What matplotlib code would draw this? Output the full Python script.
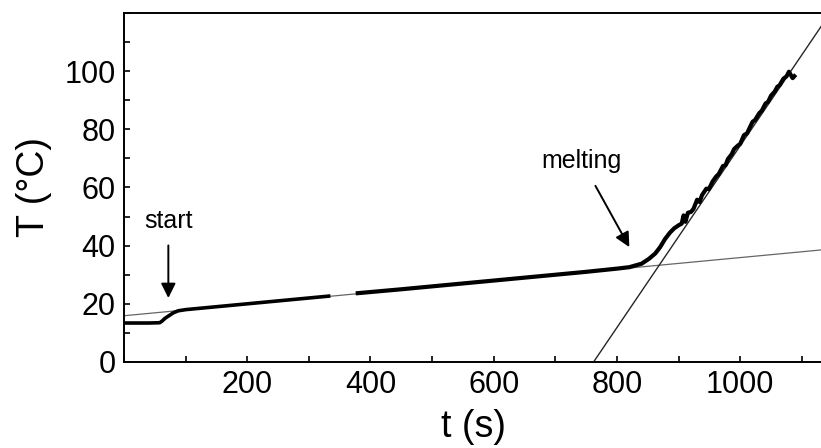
import numpy as np
import matplotlib.pyplot as plt
from matplotlib.ticker import MultipleLocator

plt.rcParams['font.family'] = ['Liberation Sans', 'DejaVu Sans']

# measured temperature, first part (before the gap in the record)
t_a = [0, 20, 40, 58, 62, 66, 70, 75, 80, 88, 100, 130, 170, 220, 270, 335]
T_a = [13.4, 13.4, 13.4, 13.5, 14.1, 14.9, 15.5, 16.2, 16.9, 17.6, 18.0, 18.6,
       19.4, 20.4, 21.4, 22.7]

# measured temperature, second part (after the gap)
t_b = [376, 450, 550, 650, 750, 800, 820, 840, 852, 862, 870, 878, 886, 893,
       900, 905, 908, 911, 915, 920, 924, 930, 934, 938, 945, 949, 955, 961,
       965, 972, 976, 980, 986, 990, 996, 1000, 1006, 1011, 1015, 1020, 1024,
       1031, 1035, 1041, 1045, 1050, 1056, 1060, 1064, 1070, 1075, 1079, 1085,
       1090]
T_b = [23.6, 25.0, 27.0, 29.0, 31.0, 32.1, 32.6, 33.8, 35.5, 37.3, 39.5, 42.3,
       44.5, 46.0, 47.0, 47.6, 50.4, 48.2, 51.3, 51.6, 52.6, 55.8, 55.0, 57.4,
       59.6, 59.4, 62.0, 63.8, 64.6, 67.4, 67.6, 69.8, 71.4, 73.2, 74.4, 75.0,
       78.0, 78.6, 80.4, 82.6, 83.2, 85.6, 86.4, 88.9, 89.4, 91.6, 93.0, 94.6,
       95.2, 97.4, 98.2, 99.8, 97.6, 98.8]

# fitted straight lines (end points)
fit_low_t = [0, 1140]
fit_low_T = [15.9, 38.7]
fit_high_t = [762, 1146]
fit_high_T = [0, 120]

fig = plt.figure(figsize=(8.21, 4.48), dpi=100)
ax = fig.add_axes([0.151, 0.192, 0.852, 0.779])

ax.plot(fit_low_t, fit_low_T, color='0.4', lw=0.9)
ax.plot(fit_high_t, fit_high_T, color='0.15', lw=1.0)
ax.plot(t_a, T_a, color='k', lw=2.6, solid_capstyle='butt')
ax.plot(t_b, T_b, color='k', lw=3.0, solid_capstyle='butt')

ax.annotate('start', xy=(72, 22.0), xytext=(72, 48.5), ha='center', va='center',
            fontsize=18,
            arrowprops=dict(arrowstyle='-|>', color='k', lw=1.4,
                            mutation_scale=22, shrinkA=7, shrinkB=0))
ax.annotate('melting', xy=(820, 39.5), xytext=(743, 69), ha='center',
            va='center', fontsize=18,
            arrowprops=dict(arrowstyle='-|>', color='k', lw=1.4,
                            mutation_scale=22, shrinkA=8, shrinkB=0))

ax.set_xlim(0, 1135)
ax.set_ylim(0, 120)
ax.xaxis.set_minor_locator(MultipleLocator(100))
ax.yaxis.set_minor_locator(MultipleLocator(10))
ax.set_xticks([200, 400, 600, 800, 1000])
ax.set_yticks([0, 20, 40, 60, 80, 100])
ax.tick_params(which='both', direction='in', length=4, width=1.2,
               labelsize=22, pad=6)
ax.spines['right'].set_visible(False)
for s in ['left', 'bottom', 'top']:
    ax.spines[s].set_linewidth(1.4)

ax.set_xlabel('t (s)', fontsize=27, labelpad=6)
ax.set_ylabel('T (°C)', fontsize=27, labelpad=9)

fig.savefig('out.png', dpi=100)
